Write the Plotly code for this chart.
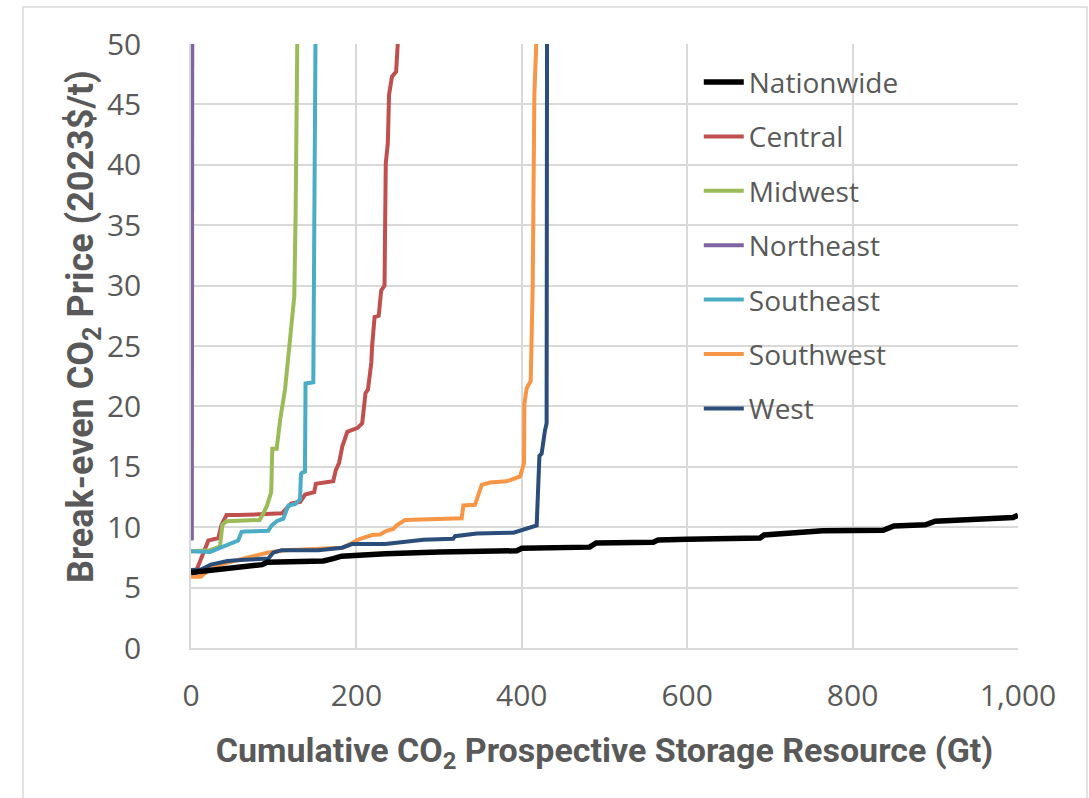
import plotly.graph_objects as go

# ---- data ----
nation_x = [0, 20, 50, 86, 92, 160, 172, 182, 235, 300, 394, 400, 482, 490, 559, 565, 600, 688, 693, 752, 764, 837, 850, 888, 900, 994, 1000]
nation_y = [6.25, 6.4, 6.6, 6.9, 7.1, 7.2, 7.4, 7.6, 7.8, 7.95, 8.05, 8.25, 8.35, 8.7, 8.75, 8.95, 9.0, 9.1, 9.35, 9.55, 9.7, 9.75, 10.1, 10.2, 10.5, 10.8, 11.0]

central_x = [4, 7, 21, 33, 37, 43, 57, 110, 121, 132, 138, 144, 149, 151, 172, 175, 179, 183, 189, 195, 201, 207, 211, 214, 218, 219, 222, 227, 230, 234, 235, 235.5, 238, 239.5, 243, 248, 250]
central_y = [6.1, 6.5, 8.9, 9.1, 10.2, 11.0, 11.0, 11.15, 11.95, 12.1, 12.7, 12.85, 12.9, 13.6, 13.8, 14.7, 15.3, 16.7, 17.9, 18.05, 18.2, 18.6, 21.1, 21.4, 23.6, 25.0, 27.4, 27.5, 29.6, 30.0, 35.7, 40.1, 41.8, 45.8, 47.3, 47.7, 50]

midwest_x = [0, 23, 35, 38, 43, 83, 88, 92, 97, 98.3, 103.6, 108, 113.7, 124.9, 126.5, 127.5, 128.5]
midwest_y = [8.0, 8.1, 8.4, 10.2, 10.5, 10.6, 11.2, 11.8, 12.9, 16.5, 16.5, 19.0, 21.4, 29.1, 36.0, 44.0, 50]

northeast_x = [1.0, 1.5]
northeast_y = [8.9, 50]

southeast_x = [0, 23, 57, 61, 65, 93.5, 97, 103.6, 111.6, 117.7, 125.8, 131.8, 133, 134, 137.8, 138.5, 147.9, 149, 150.2, 150.5]
southeast_y = [8.0, 7.95, 8.9, 9.6, 9.65, 9.7, 10.1, 10.5, 10.7, 11.8, 11.9, 12.3, 14.4, 14.5, 14.6, 21.9, 22.0, 34.0, 36.3, 50]

southwest_x = [0, 12, 24, 36, 57, 73, 93.5, 114, 154, 183, 195, 203, 219, 228.5, 236.6, 244.7, 248.7, 258.8, 327.3, 329.3, 343.4, 347.5, 351.5, 361.6, 381.7, 397.9, 401.1, 402.7, 403.1, 405.9, 410.8, 413.2, 415.2, 417.5]
southwest_y = [5.9, 5.9, 6.6, 6.9, 7.3, 7.6, 7.9, 8.1, 8.2, 8.3, 8.7, 9.0, 9.35, 9.4, 9.7, 9.85, 10.15, 10.6, 10.74, 11.8, 11.85, 12.7, 13.5, 13.7, 13.8, 14.2, 14.9, 15.3, 20.2, 21.5, 22.1, 30.1, 45.8, 50]

west_x = [0, 12, 24, 44, 64.5, 93.5, 99.6, 109.7, 154, 182.7, 194.8, 235, 281, 317, 319.3, 345.4, 389.8, 405.9, 418, 421.3, 424, 428, 430, 430.5]
west_y = [6.45, 6.5, 6.9, 7.2, 7.3, 7.4, 7.9, 8.1, 8.1, 8.3, 8.6, 8.6, 8.97, 9.05, 9.26, 9.47, 9.55, 9.85, 10.15, 15.9, 16.1, 18.0, 18.6, 50]

series = [
    ("Nationwide", nation_x, nation_y, "#000000", 5.5),
    ("Central", central_x, central_y, "#c0504d", 4),
    ("Midwest", midwest_x, midwest_y, "#9bbb59", 4),
    ("Northeast", northeast_x, northeast_y, "#8064a2", 4),
    ("Southeast", southeast_x, southeast_y, "#4bacc6", 4),
    ("Southwest", southwest_x, southwest_y, "#f79646", 4),
    ("West", west_x, west_y, "#2a4d7a", 4),
]

x_ticks = [0, 200, 400, 600, 800, 1000]
y_ticks = [0, 5, 10, 15, 20, 25, 30, 35, 40, 45, 50]

fig = go.Figure()
# non-national series first so Nationwide is drawn on top
for rank, (name, xs, ys, col, w) in list(enumerate(series))[1:] + [(0, series[0])]:
    fig.add_trace(go.Scatter(x=xs, y=ys, mode="lines", name=name, legendgroup=name,
                             legendrank=rank + 1, line=dict(color=col, width=w)))

txt = "#595959"
grid = "#d9d9d9"
tick_font = dict(family="Open Sans, Noto Sans", size=30, color=txt)

fig.update_layout(
    width=1089, height=798,
    margin=dict(l=191, r=71, t=44, b=150),
    paper_bgcolor="white", plot_bgcolor="white",
    showlegend=True,
    legend=dict(x=0.614, y=0.978, xanchor="left", yanchor="top",
                bgcolor="rgba(0,0,0,0)", font=dict(family="Open Sans, Noto Sans", size=28, color=txt),
                tracegroupgap=15, traceorder="grouped", itemwidth=40),
    xaxis=dict(range=[0, 1000], tickvals=x_ticks, tickformat=",d", showgrid=True, gridcolor=grid,
               gridwidth=1.5, zeroline=False, showline=True, linecolor=grid, linewidth=1.5,
               tickfont=tick_font, ticks="", ticklabelstandoff=20,
               title=dict(text="<b>Cumulative CO<sub>2</sub> Prospective Storage Resource (Gt)</b>",
                          font=dict(family="Roboto, Open Sans", size=34, color=txt), standoff=24)),
    yaxis=dict(range=[0, 50], tickvals=y_ticks, showgrid=True, gridcolor=grid, gridwidth=1.5,
               zeroline=False, showline=True, linecolor=grid, linewidth=1.5,
               tickfont=tick_font, ticks="", ticklabelstandoff=42),
)

# y-axis title placed where the reference shows it
fig.add_annotation(text="<b>Break-even CO<sub>2</sub> Price (2023$/t)</b>", textangle=-90,
                   xref="paper", yref="paper", x=(83 - 191) / 827, y=(648 - 327) / 604,
                   xanchor="center", yanchor="middle", showarrow=False,
                   font=dict(family="Roboto, Open Sans", size=36, color=txt))

# outer chart border
fig.add_shape(type="rect", xref="paper", yref="paper",
              x0=(23 - 191) / 827, x1=(1087 - 191) / 827,
              y0=(648 - 805) / 604, y1=(648 - 7) / 604,
              line=dict(color=grid, width=1.5), fillcolor="rgba(0,0,0,0)", layer="below")

fig.write_html("out.html", config={"displayModeBar": False},
               post_script="document.body.style.margin='0';document.body.style.overflow='hidden';")
